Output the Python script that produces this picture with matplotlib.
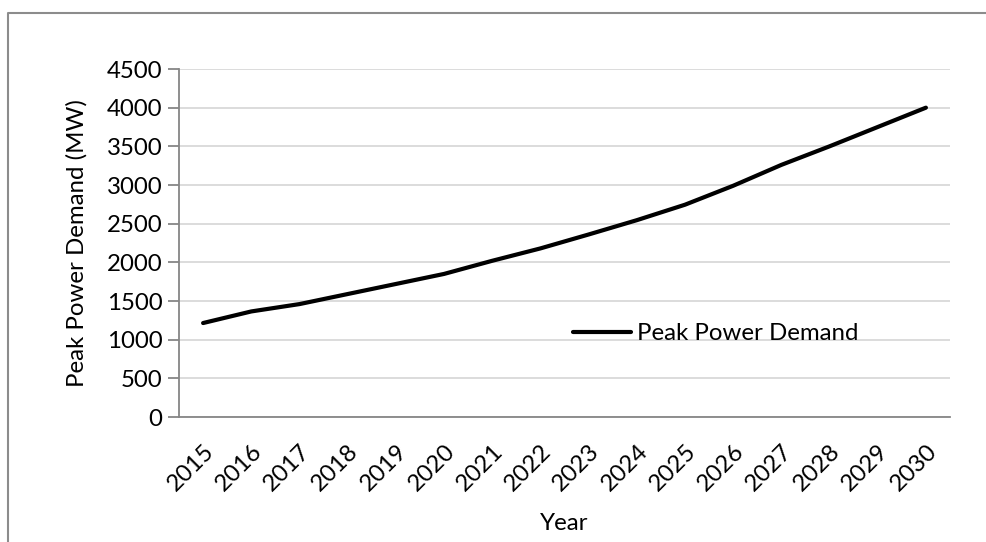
import matplotlib.pyplot as plt
from matplotlib.lines import Line2D

# Peak power demand per year (MW)
years = [str(y) for y in range(2015, 2031)]
demand = [1215, 1365, 1460, 1590, 1720, 1850, 2020, 2180,
          2360, 2545, 2745, 2990, 3260, 3500, 3750, 4000]
yticks = list(range(0, 4501, 500))

plt.rcParams['font.family'] = ['Lato', 'DejaVu Sans']
FS = 17.3

W, H = 987, 542
fig = plt.figure(figsize=(W / 100, H / 100), dpi=100)
# axes box in pixels: x 179..950, y 69..417
ax = fig.add_axes([179 / W, 1 - 417 / H, (950 - 179) / W, (417 - 69) / H])

x = list(range(len(years)))
ax.plot(x, demand, color='black', linewidth=3, solid_capstyle='round',
        label='Peak Power Demand')

ax.set_xlim(-0.5, len(years) - 0.5)
ax.set_ylim(0, 4500)
ax.set_yticks(yticks)
ax.set_xticks(x)
ax.set_xticklabels(years, rotation=45, ha='right', rotation_mode='anchor')
ax.tick_params(axis='x', length=0, pad=17, labelsize=FS)
ax.tick_params(axis='y', length=8, width=1.3, color='#868686', pad=4, labelsize=FS)

ax.grid(axis='y', color='#d9d9d9', linewidth=1.3)
ax.set_axisbelow(True)
for s in ['top', 'right']:
    ax.spines[s].set_visible(False)
for s in ['left', 'bottom']:
    ax.spines[s].set_color('#868686')
    ax.spines[s].set_linewidth(1.3)

ax.set_ylabel('Peak Power Demand (MW)', fontsize=FS, labelpad=14)
ax.set_xlabel('Year', fontsize=FS, labelpad=13)

ax.legend(loc='center left', bbox_to_anchor=(0.511, 0.24), frameon=False, fontsize=FS,
          handlelength=2.4, handletextpad=0.25, borderpad=0, borderaxespad=0)

# outer chart border (cropped on right and bottom)
fig.add_artist(Line2D([8 / W, 8 / W, 1], [0, 1 - 13 / H, 1 - 13 / H],
                      transform=fig.transFigure, color='#8c8c8c', linewidth=1.5))

fig.savefig('out.png', dpi=100)
